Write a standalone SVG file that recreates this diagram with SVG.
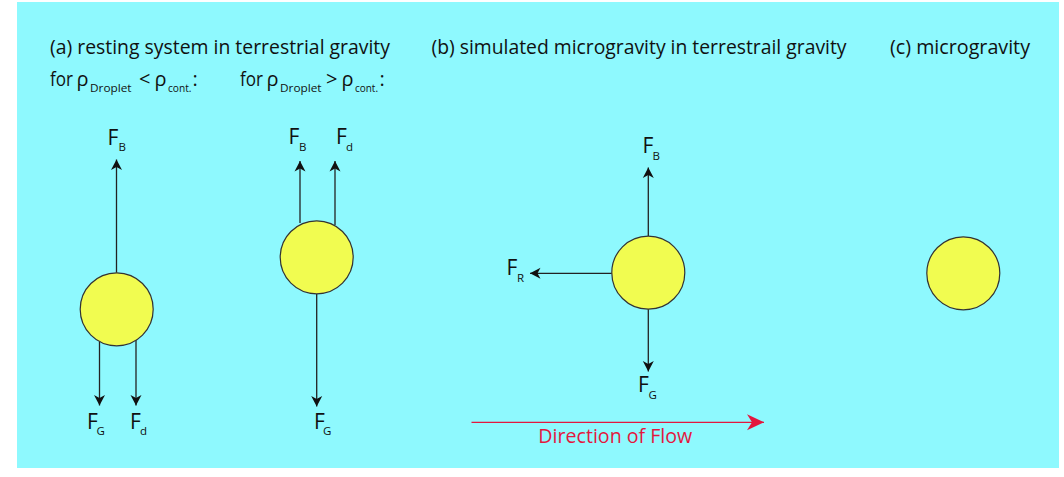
<svg xmlns="http://www.w3.org/2000/svg" width="1064" height="477" viewBox="0 0 1064 477">
<defs>
<style>
.t{font-family:"Open Sans","Noto Sans","Liberation Sans",sans-serif;fill:#111}
.ti{font-size:20px}
.lb{font-size:21px}
.sb{font-size:11.5px}
.drop{fill:#f1fc50;stroke:#333;stroke-width:1.2}
.ar{stroke:#222;stroke-width:1.3;fill:none;marker-end:url(#ah)}
.flow{stroke:#e3173e;stroke-width:1.3;fill:none;marker-end:url(#ahr)}
.red{fill:#e3173e}
</style>
<marker id="ah" markerUnits="userSpaceOnUse" orient="auto" refX="0" refY="0" markerWidth="12" markerHeight="12" viewBox="-11 -6 12 12" overflow="visible">
<path d="M0,0 L-10.5,-5.5 L-7.5,0 L-10.5,5.5 Z" fill="#111"/>
</marker>
<marker id="ahr" markerUnits="userSpaceOnUse" orient="auto" refX="0" refY="0" markerWidth="20" markerHeight="18" viewBox="-18 -9 19 18" overflow="visible">
<path d="M0,0 L-17,-8 L-12,0 L-17,8 Z" fill="#e3173e"/>
</marker>
</defs>
<rect x="0" y="0" width="1064" height="477" fill="#ffffff"/>
<rect x="17" y="2" width="1042" height="466" fill="#8ef9fe"/>

<g id="titles" class="t ti">
<text x="50" y="54" textLength="340" lengthAdjust="spacingAndGlyphs">(a) resting system in terrestrial gravity</text>
<text x="431.5" y="54" textLength="415" lengthAdjust="spacingAndGlyphs">(b) simulated microgravity in terrestrail gravity</text>
<text x="890" y="54" textLength="140" lengthAdjust="spacingAndGlyphs">(c) microgravity</text>
</g>

<g id="condition-less" class="t">
<text class="ti" x="50" y="85.5" textLength="23" lengthAdjust="spacingAndGlyphs">for</text>
<text class="ti" x="76.5" y="85.5">ρ</text>
<text class="sb" x="90" y="91.5" textLength="41.5" lengthAdjust="spacingAndGlyphs">Droplet</text>
<text class="ti" x="139" y="85.5">&lt;</text>
<text class="ti" x="154.5" y="85.5">ρ</text>
<text class="sb" x="168" y="91.5" textLength="23.5" lengthAdjust="spacingAndGlyphs">cont.</text>
<text class="ti" x="192.5" y="85.5">:</text>
</g>
<g id="condition-greater" class="t">
<text class="ti" x="240" y="85.5" textLength="23" lengthAdjust="spacingAndGlyphs">for</text>
<text class="ti" x="266.5" y="85.5">ρ</text>
<text class="sb" x="280" y="91.5" textLength="41.5" lengthAdjust="spacingAndGlyphs">Droplet</text>
<text class="ti" x="326" y="85.5">&gt;</text>
<text class="ti" x="341.5" y="85.5">ρ</text>
<text class="sb" x="355" y="91.5" textLength="23" lengthAdjust="spacingAndGlyphs">cont.</text>
<text class="ti" x="379.5" y="85.5">:</text>
</g>

<g id="connectors">
<path class="ar" d="M116.5,272.8 L116.5,159.5"/>
<path class="ar" d="M99.5,342 L99.5,405.5"/>
<path class="ar" d="M136,340 L136,405.5"/>
<path class="ar" d="M300,223 L300,161"/>
<path class="ar" d="M335,225 L335,161"/>
<path class="ar" d="M316.7,294 L316.7,406.5"/>
<path class="ar" d="M648.3,236 L648.3,167.5"/>
<path class="ar" d="M611.8,273.3 L530,273.3"/>
<path class="ar" d="M648.3,309 L648.3,371.5"/>
<path class="flow" d="M471.5,422.3 L764,422.3"/>
</g>

<g id="droplet-a1"><circle class="drop" cx="116.7" cy="309.3" r="36.5"/></g>
<g id="droplet-a2"><circle class="drop" cx="316.7" cy="257.3" r="36.5"/></g>
<g id="droplet-b"><circle class="drop" cx="648.3" cy="272.7" r="36.5"/></g>
<g id="droplet-c"><circle class="drop" cx="963.3" cy="273.3" r="36.5"/></g>

<g id="labels-a1" class="t">
<text class="lb" x="107.5" y="144.5">F</text><text class="sb" x="118.5" y="151">B</text>
<text class="lb" x="87" y="428.5">F</text><text class="sb" x="96.5" y="435">G</text>
<text class="lb" x="130" y="428.5">F</text><text class="sb" x="140" y="435">d</text>
</g>
<g id="labels-a2" class="t">
<text class="lb" x="288.5" y="144">F</text><text class="sb" x="299" y="150.5">B</text>
<text class="lb" x="336" y="144">F</text><text class="sb" x="346" y="150.5">d</text>
<text class="lb" x="314" y="428.5">F</text><text class="sb" x="323" y="435">G</text>
</g>
<g id="labels-b" class="t">
<text class="lb" x="642.5" y="153">F</text><text class="sb" x="652.5" y="159.5">B</text>
<text class="lb" x="506.5" y="275">F</text><text class="sb" x="517" y="282">R</text>
<text class="lb" x="638" y="391.5">F</text><text class="sb" x="648.5" y="398.5">G</text>
</g>
<g id="flow-label">
<text class="t red" x="538.3" y="443.3" font-size="20" textLength="154" lengthAdjust="spacingAndGlyphs" style="fill:#e3173e">Direction of Flow</text>
</g>
</svg>
